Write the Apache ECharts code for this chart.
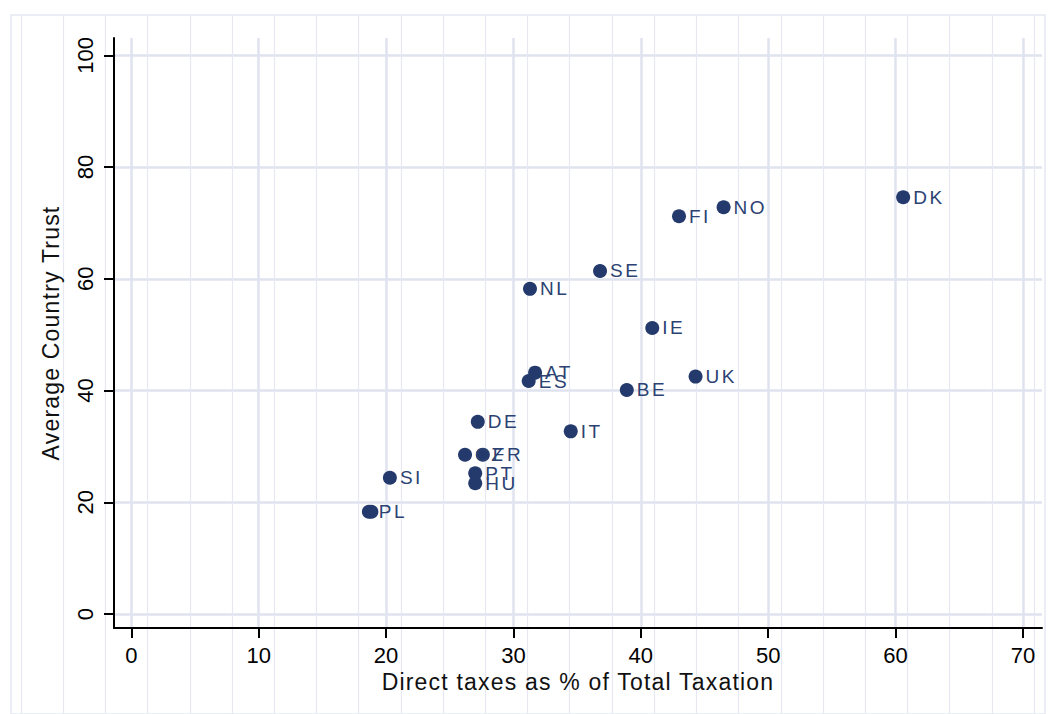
<!DOCTYPE html>
<html>
<head>
<meta charset="utf-8">
<script src="https://cdn.jsdelivr.net/npm/echarts@6/dist/echarts.min.js"></script>
<style>
  html, body { margin: 0; padding: 0; background: #ffffff; }
  #chart { width: 1048px; height: 714px; }
  /* wider tracking for the country labels and axis titles */
  #chart text[fill="#2b4272"] { letter-spacing: 2.5px; }
  #chart text[fill="#111111"] { letter-spacing: 1.2px; }
</style>
</head>
<body>
<div id="chart"></div>
<script>
// Country codes (the last entry is a second, unlabelled observation)
const countries = ['DK', 'NO', 'FI', 'SE', 'NL', 'IE', 'AT', 'ES', 'UK', 'BE', 'IT', 'DE', 'CZ', 'FR', 'PT', 'HU', 'SI', 'PL', ''];
// Direct taxes as % of total taxation
const directTaxShare = [60.6, 46.5, 43.0, 36.8, 31.3, 40.9, 31.7, 31.2, 44.3, 38.9, 34.5, 27.2, 26.2, 27.6, 27.0, 27.0, 20.3, 18.65, 18.85];
// Average country trust
const countryTrust = [74.6, 72.8, 71.2, 61.4, 58.2, 51.2, 43.2, 41.7, 42.5, 40.1, 32.7, 34.4, 28.5, 28.5, 25.2, 23.4, 24.4, 18.3, 18.3];

const xTicks = [0, 10, 20, 30, 40, 50, 60, 70];
const yTicks = [0, 20, 40, 60, 80, 100];
const paperLineCount = 24;

const gridColor = '#dfe3ef';
const paperColor = '#e6e9f3';
const markColor = '#243a6c';
const labelColor = '#2b4272';

const points = directTaxShare.map((x, i) => ({ value: [x, countryTrust[i]], name: countries[i] }));

const chart = echarts.init(document.getElementById('chart'), null, { renderer: 'svg' });
chart.setOption({
  animation: false,
  backgroundColor: '#ffffff',
  grid: [
    { left: 114, right: 6, top: 38, bottom: 86, containLabel: false },
    { left: 11, right: 3, top: 15, bottom: -10, show: true, borderColor: paperColor, borderWidth: 1.5, backgroundColor: 'transparent' },
    { left: 21, right: 14, top: 15, bottom: 0 }
  ],
  xAxis: [
    {
      gridIndex: 0, type: 'value', min: -1.36, max: 71.5,
      name: 'Direct taxes as % of Total Taxation', nameLocation: 'middle', nameGap: 38,
      nameTextStyle: { color: '#111111', fontSize: 23, fontFamily: 'Liberation Sans, Arial, sans-serif' },
      axisLine: { show: true, onZero: false, lineStyle: { color: '#000', width: 2 } },
      axisTick: { show: true, customValues: xTicks, length: 10, lineStyle: { color: '#000', width: 2 } },
      axisLabel: { customValues: xTicks, color: '#000', fontSize: 22, margin: 16, fontFamily: 'Liberation Sans, Arial, sans-serif' },
      splitLine: { show: true, lineStyle: { color: gridColor, width: 2.5 } }
    },
    {
      gridIndex: 1, type: 'value', min: 0, max: 1, show: false
    },
    {
      gridIndex: 2, type: 'value', min: 0, max: paperLineCount, interval: 1,
      axisLine: { show: false }, axisTick: { show: false }, axisLabel: { show: false },
      splitLine: { show: true, lineStyle: { color: paperColor, width: 1.2 } }
    }
  ],
  yAxis: [
    {
      gridIndex: 0, type: 'value', min: -2.5, max: 103.1,
      name: 'Average Country Trust', nameLocation: 'middle', nameGap: 52, nameRotate: 90,
      nameTextStyle: { color: '#111111', fontSize: 23, fontFamily: 'Liberation Sans, Arial, sans-serif' },
      axisLine: { show: true, onZero: false, lineStyle: { color: '#000', width: 2 } },
      axisTick: { show: true, customValues: yTicks, length: 10, lineStyle: { color: '#000', width: 2 } },
      axisLabel: { customValues: yTicks, rotate: 90, color: '#000', fontSize: 22, margin: 18, fontFamily: 'Liberation Sans, Arial, sans-serif' },
      splitLine: { show: true, lineStyle: { color: gridColor, width: 2.5 } }
    },
    { gridIndex: 1, type: 'value', min: 0, max: 1, show: false },
    { gridIndex: 2, type: 'value', min: 0, max: 1, show: false }
  ],
  series: [
    {
      type: 'scatter', xAxisIndex: 0, yAxisIndex: 0,
      data: points,
      symbol: 'circle', symbolSize: 14,
      itemStyle: { color: markColor, opacity: 1 },
      label: {
        show: true, position: 'right', distance: 3,
        formatter: p => p.name,
        color: labelColor, fontSize: 19,
        fontFamily: 'Liberation Sans, Arial, sans-serif'
      },
      z: 5
    }
  ]
});
</script>
</body>
</html>
